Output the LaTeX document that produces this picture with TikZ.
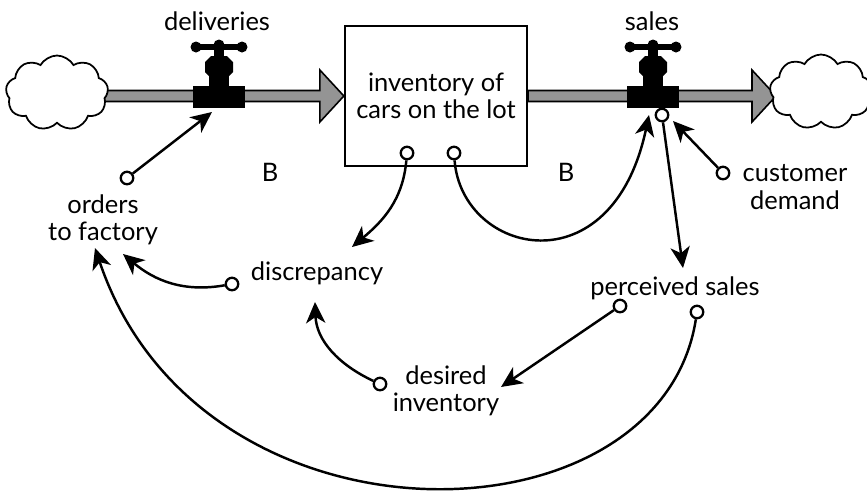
\documentclass[tikz,border=0pt]{standalone}
\usepackage{fontspec}
\setmainfont{Lato}
\usepackage{tikz}
\usetikzlibrary{shapes.symbols, arrows.meta, calc}

\begin{document}
\begin{tikzpicture}[x=0.02cm, y=0.02cm,
	word/.style={font=\fontsize{14.5}{15.5}\selectfont, align=center, inner sep=0pt},
	tap/.style={circle, draw, line width=1.3pt, fill=white, inner sep=0pt, minimum size=0.25cm},
	link/.style={line width=1.4pt, -{Stealth[length=12pt, width=11pt, inset=3.5pt]}},
	pipe/.style={draw, line width=0.9pt, fill=black!42},
	puff/.style={cloud, draw, fill=white, line width=1pt, cloud puffs=9, cloud puff arc=120, aspect=1.4, inner sep=0pt, minimum width=2.05cm, minimum height=1.5cm},
	stockbox/.style={draw, line width=1.3pt, minimum width=3.64cm, minimum height=2.8cm}]
							
							\useasboundingbox (0,0) rectangle (867,-498);
							
							% Define a flow pipe with its arrow head
							\newcommand\Flow[2]{%
								\filldraw[pipe] ($(#1)+(0,5.5)$) -- ($(#2)+(-24,5.5)$) -- ($(#2)+(-24,26)$) -- (#2)
								-- ($(#2)+(-24,-26)$) -- ($(#2)+(-24,-5.5)$) -- ($(#1)+(0,-5.5)$) -- cycle;}
							% Define a valve sitting on the pipe
							\newcommand\Valve[1]{%
								\begin{scope}[shift={(#1)}]
									\fill (-26,-11) rectangle (26,11);
									\fill (-10,9) rectangle (10,22);
									\fill (-10,21) -- (10,21) -- (14,25) -- (14,35) -- (8,41) -- (-8,41) -- (-14,35) -- (-14,25) -- cycle;
									\fill (-5,39) rectangle (5,48);
									\draw[line width=0.13cm] (-22,50) -- (22,50);
									\fill (-23,50) circle (5.5) (23,50) circle (5.5) (0,52) circle (5.5);
								\end{scope}}
							
							% The stock
							\node[stockbox, word] (stock) at (436,-96) {inventory of\\cars on the lot};
							
							% Ends of the pipes
							\coordinate (lend) at (57,-96);
							\coordinate (rtip) at (776,-96);
							\coordinate (vdel) at (219,-97);
							\coordinate (vsal) at (653,-97);
							
							% Draw the pipes, the clouds and the valves
							\Flow{lend}{stock.west}
							\Flow{stock.east}{rtip}
							\node[puff] (lcloud) at (57,-93) {};
							\node[puff] (rcloud) at (821,-92) {};
							\foreach \v in {vdel, vsal} {
								\Valve{\v}
							}
							
							% Labels
							\node[word] (deliv) at (217,-21) {deliveries};
							\node[word] (sales) at (652,-21) {sales};
							\node[word] (bl) at (270,-172) {B};
							\node[word] (br) at (566,-172) {B};
							\node[word] (orders) at (103,-220) {orders\\to factory};
							\node[word] (disc) at (317,-273) {discrepancy};
							\node[word] (desired) at (446,-391) {desired\\inventory};
							\node[word] (perc) at (675,-288) {perceived sales};
							\node[word] (cust) at (795,-187) {customer\\demand};
							
							% Small circles where the links start
							\foreach \n/\x/\y in {ordc/127/-178, discc/232/-284, desc/380/-384, perc1/620/-306, perc2/697/-312,
								custc/723/-173, sc1/407/-153, sc2/454/-153, salc/662/-115} {
								\node[tap] (\n) at (\x,\y) {};
							}
							
							% Points where the arrows end
							\foreach \n/\x/\y in {tdel/212/-112, tord1/123/-254, tord2/95/-248, tdisc1/352/-247, tdisc2/315/-302,
								tdes/501/-387, tperc/683/-268, tsal1/649/-115, tsal2/673/-121} {
								\coordinate (\n) at (\x,\y);
							}
							
							% Draw the links
							\draw[link] (ordc) -- (tdel);
							\draw[link] (discc) to[out=190, in=-40] (tord1);
							\draw[link] (desc) to[out=155, in=-88] (tdisc2);
							\draw[link] (sc1) to[out=-95, in=40] (tdisc1);
							\draw[link] (sc2) .. controls (462,-255) and (612,-290) .. (tsal1);
							\draw[link] (salc) -- (tperc);
							\draw[link] (custc) -- (tsal2);
							\draw[link] (perc1) -- (tdes);
							\draw[link] (perc2) .. controls (660,-550) and (200,-560) .. (tord2);
						\end{tikzpicture}
\end{document}
